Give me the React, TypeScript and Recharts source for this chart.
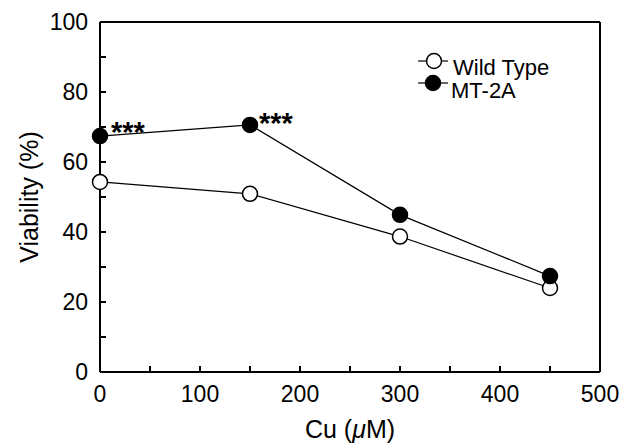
import { LineChart, Line, XAxis, YAxis, LabelList, ReferenceLine } from 'recharts';

const doses = [0, 150, 300, 450];
const wildType = [54.3, 50.9, 38.7, 24.0];
const mt2a = [67.4, 70.6, 44.9, 27.4];
const stars = ['***', '***', '', ''];
const xTicks = [0, 50, 100, 150, 200, 250, 300, 350, 400, 450, 500];
const yTicks = [0, 10, 20, 30, 40, 50, 60, 70, 80, 90, 100];

const FONT = '"Liberation Sans", Arial, Helvetica, sans-serif';

const data = doses.map((d, i) => ({ dose: d, wt: wildType[i], mt: mt2a[i], star: stars[i] }));

const axisLine = { stroke: '#000', strokeWidth: 2 };
const tickLine = { stroke: '#000', strokeWidth: 2 };

// legend drawn as an overlay so it doesn't eat plot space
function LegendBox() {
  return (
    <svg width={170} height={62} style={{ position: 'absolute', left: 410, top: 45 }}>
      <line x1={8} x2={38} y1={16} y2={16} stroke="#000" strokeWidth={1.2} />
      <circle cx={24} cy={16} r={7.5} fill="#fff" stroke="#000" strokeWidth={1.5} />
      <text x={43} y={30} fontFamily={FONT} fontSize={22} fill="#000">Wild Type</text>
      <line x1={8} x2={38} y1={38} y2={38} stroke="#000" strokeWidth={1.2} />
      <circle cx={23} cy={38} r={7.5} fill="#000" stroke="#000" strokeWidth={1.5} />
      <text x={41} y={53} fontFamily={FONT} fontSize={22} fill="#000">MT-2A</text>
    </svg>
  );
}

function StarLabel(props: any) {
  const { x, y, value, index } = props;
  if (!value) return null;
  const dx = index === 0 ? 11 : 9;
  const dy = index === 0 ? 6 : 8;
  return (
    <text x={x + dx} y={y + dy} fontFamily={FONT} fontSize={29} fontWeight="bold" fill="#000">
      {value}
    </text>
  );
}

function XLabel(props: any) {
  const { viewBox } = props;
  const cx = viewBox.x + viewBox.width / 2;
  return (
    <text x={cx} y={viewBox.y + 66} textAnchor="middle" fontFamily={FONT} fontSize={25} fill="#000">
      Cu (<tspan fontStyle="italic">μ</tspan>M)
    </text>
  );
}

function YLabel(props: any) {
  const { viewBox } = props;
  const cy = viewBox.y + viewBox.height / 2;
  return (
    <text
      x={38}
      y={cy}
      transform={`rotate(-90, 38, ${cy})`}
      textAnchor="middle"
      fontFamily={FONT}
      fontSize={25}
      fill="#000"
    >
      Viability (%)
    </text>
  );
}

export default function App() {
  return (
    <div style={{ position: 'absolute', left: 0, top: 0, width: 622, height: 443, background: '#fff' }}>
      <LineChart width={622} height={443} data={data} margin={{ top: 21, right: 21, bottom: 0, left: 0 }}>
        <XAxis
          xAxisId="bottom"
          dataKey="dose"
          type="number"
          domain={[0, 500]}
          ticks={xTicks}
          interval={0}
          height={71}
          stroke="#000"
          axisLine={axisLine}
          tickLine={tickLine}
          tickSize={-6}
          tickMargin={20}
          tickFormatter={(v: number) => (v % 100 === 0 ? String(v) : '')}
          tick={{ fill: '#000', fontSize: 23, fontFamily: FONT }}
          label={<XLabel />}
        />
        <XAxis
          xAxisId="top"
          orientation="top"
          dataKey="dose"
          type="number"
          domain={[0, 500]}
          ticks={xTicks}
          interval={0}
          height={1}
          stroke="#000"
          axisLine={axisLine}
          tickLine={tickLine}
          tickSize={-6}
          tick={false}
        />
        <YAxis
          yAxisId="left"
          type="number"
          domain={[0, 100]}
          ticks={yTicks}
          interval={0}
          width={100}
          stroke="#000"
          axisLine={axisLine}
          tickLine={tickLine}
          tickSize={-6}
          tickMargin={18}
          tickFormatter={(v: number) => (v % 20 === 0 ? String(v) : '')}
          tick={{ fill: '#000', fontSize: 23, fontFamily: FONT }}
          label={<YLabel />}
        />
        <YAxis
          yAxisId="right"
          orientation="right"
          type="number"
          domain={[0, 100]}
          ticks={yTicks}
          interval={0}
          width={1}
          stroke="#000"
          axisLine={axisLine}
          tickLine={tickLine}
          tickSize={-6}
          tick={false}
        />
        {/* left frame edge, in case the axis line is faint */}
        <ReferenceLine xAxisId="bottom" yAxisId="left" x={0} stroke="#000" strokeWidth={2} />
        {/* invisible series so the frame axes get built */}
        <Line
          xAxisId="top"
          yAxisId="right"
          dataKey="wt"
          stroke="none"
          dot={false}
          activeDot={false}
          legendType="none"
          isAnimationActive={false}
        />
        <Line
          xAxisId="bottom"
          yAxisId="left"
          dataKey="wt"
          name="Wild Type"
          stroke="#000"
          strokeWidth={1.2}
          dot={{ r: 7.5, fill: '#fff', stroke: '#000', strokeWidth: 1.5 }}
          isAnimationActive={false}
        />
        <Line
          xAxisId="bottom"
          yAxisId="left"
          dataKey="mt"
          name="MT-2A"
          stroke="#000"
          strokeWidth={1.2}
          dot={{ r: 7.5, fill: '#000', stroke: '#000', strokeWidth: 1.5 }}
          isAnimationActive={false}
        >
          <LabelList dataKey="star" content={<StarLabel />} />
        </Line>
      </LineChart>
      <LegendBox />
    </div>
  );
}
